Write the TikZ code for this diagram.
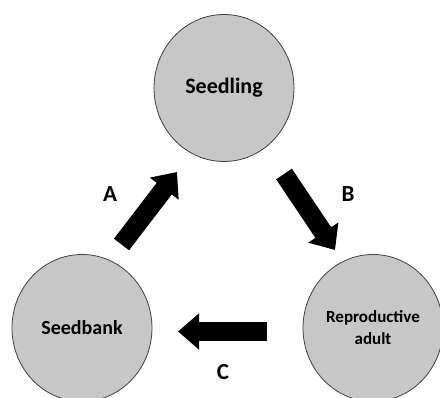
\documentclass[tikz,border=0pt]{standalone}
\usepackage{fontspec}
\setmainfont{Carlito}
\usetikzlibrary{arrows.meta,shapes.geometric}
\begin{document}
\begin{tikzpicture}[
		x=1pt,y=-1pt,
		stage/.style = {ellipse, draw=black!75, line width=0.8pt, fill=black!22,
			minimum width=140pt, minimum height=147pt, inner sep=0pt,
			align=center, font=\bfseries\fontsize{20}{22}\selectfont},
		flow/.style = {line width=19pt, -{Triangle[length=21pt,width=35pt]}},
		letter/.style = {font=\bfseries\fontsize{23}{26}\selectfont}
	]
	\useasboundingbox (0,0) rectangle (440,398);
	\node (seedling) [stage, font=\bfseries\fontsize{22}{24}\selectfont] at (224,88) {Seedling};
	\node (seedbank) [stage] at (82,328) {Seedbank};
	\node (adult) [stage, font=\bfseries\fontsize{17}{22}\selectfont] at (373,328) {Reproductive\\adult};
	
	\coordinate (a0) at (121.5,244.5);
	\coordinate (a1) at (177,172);
	\coordinate (b0) at (284,174);
	\coordinate (b1) at (335,250);
	\coordinate (c0) at (267,331.5);
	\coordinate (c1) at (178,331.5);
	
	\draw [flow] (a0) -- (a1);
	\draw [flow] (b0) -- (b1);
	\draw [flow] (c0) -- (c1);
	
	\node (la) [letter] at (110,194) {A};
	\node (lb) [letter] at (348,194) {B};
	\node (lc) [letter] at (223,372) {C};
\end{tikzpicture}
\end{document}
